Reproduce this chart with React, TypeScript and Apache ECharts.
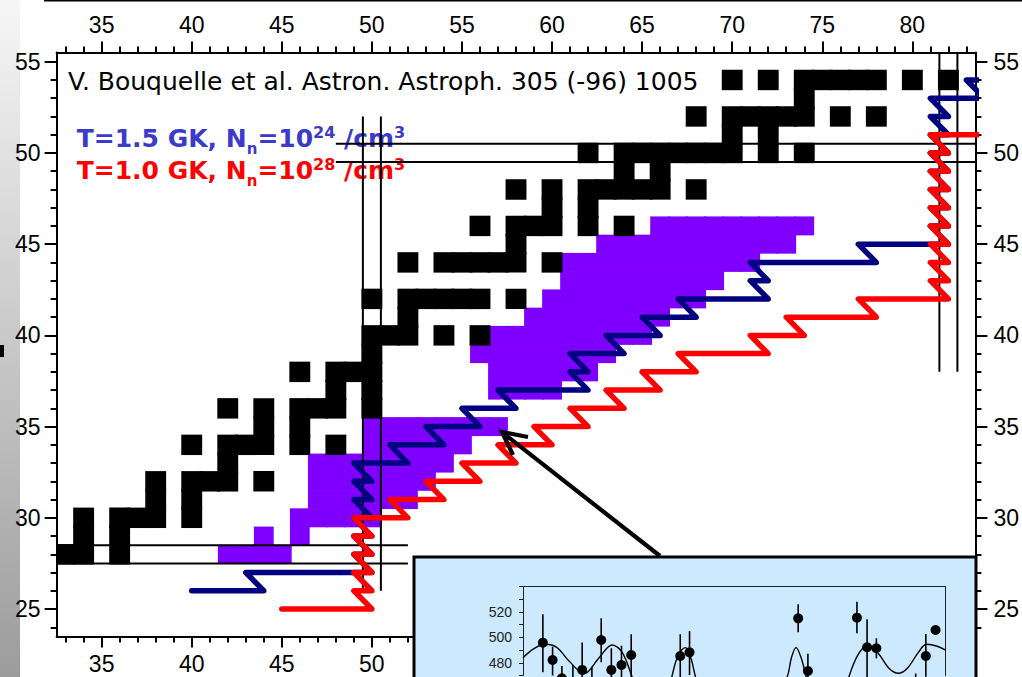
import React, { useEffect, useRef } from "react";
import * as echarts from "echarts";

// ---------- main chart axes ----------
const X_MIN = 32.5;
const X_MAX = 83.5;
const Y_MIN = 23.5;
const Y_MAX = 55.5;
const xMajor = [35, 40, 45, 50, 55, 60, 65, 70, 75, 80];
const xMinor = [33, 34, 35, 36, 37, 38, 39, 40, 41, 42, 43, 44, 45, 46, 47, 48, 49, 50, 51, 52, 53, 54, 55, 56, 57, 58, 59, 60, 61, 62, 63, 64, 65, 66, 67, 68, 69, 70, 71, 72, 73, 74, 75, 76, 77, 78, 79, 80, 81, 82, 83];
const yMajor = [25, 30, 35, 40, 45, 50, 55];
const yMinor = [24, 25, 26, 27, 28, 29, 30, 31, 32, 33, 34, 35, 36, 37, 38, 39, 40, 41, 42, 43, 44, 45, 46, 47, 48, 49, 50, 51, 52, 53, 54, 55];

// ---------- stable nuclei (black cells): Z rows and their N values ----------
const stableZ = [28, 29, 30, 31, 32, 33, 34, 35, 36, 37, 38, 39, 40, 41, 42, 44, 45, 46, 47, 48, 49, 50, 51, 52, 53, 54];
const stableN = [
  [33, 34, 36],
  [34, 36],
  [34, 36, 37, 38, 40],
  [38, 40],
  [38, 40, 41, 42, 44],
  [42],
  [40, 42, 43, 44, 46, 48],
  [44, 46],
  [42, 44, 46, 47, 48, 50],
  [48, 50],
  [46, 48, 49, 50],
  [50],
  [50, 51, 52, 54, 56],
  [52],
  [50, 52, 53, 54, 55, 56, 58],
  [52, 54, 55, 56, 57, 58, 60],
  [58],
  [56, 58, 59, 60, 62, 64],
  [60, 62],
  [58, 60, 62, 63, 64, 65, 66, 68],
  [64, 66],
  [62, 64, 65, 66, 67, 68, 69, 70, 72, 74],
  [70, 72],
  [68, 70, 71, 72, 73, 74, 76, 78],
  [74],
  [70, 72, 74, 75, 76, 77, 78, 80, 82],
];

// ---------- measured nuclei (purple cells) ----------
const measuredZ = [28, 29, 30, 31, 32, 33, 34, 35, 37, 38, 39, 40, 41, 42, 43, 44, 45, 46];
const measuredN = [
  [42, 43, 44, 45],
  [44, 46],
  [46, 47, 48, 49, 50],
  [47, 48, 49, 50, 51, 52],
  [47, 48, 49, 50, 51, 52, 53],
  [47, 48, 49, 50, 51, 52, 53, 54],
  [50, 51, 52, 53, 54, 55],
  [50, 51, 52, 53, 54, 55, 56, 57],
  [57, 58, 59, 60],
  [57, 58, 59, 60, 61, 62],
  [56, 57, 58, 59, 60, 61, 62, 63],
  [57, 58, 59, 60, 61, 62, 63, 64, 65],
  [59, 60, 61, 62, 63, 64, 65, 66],
  [60, 61, 62, 63, 64, 65, 66, 67, 68],
  [61, 62, 63, 64, 65, 66, 67, 68, 69],
  [61, 62, 63, 64, 65, 66, 67, 68, 69, 70, 71],
  [63, 64, 65, 66, 67, 68, 69, 70, 71, 72, 73],
  [66, 67, 68, 69, 70, 71, 72, 73, 74],
];

// ---------- r-process paths [N, Z] ----------
const pathBlue = [
  [40, 26], [44, 26], [43, 27], [50, 27], [49, 28], [50, 28], [49, 29], [50, 29], [49, 30], [50, 30],
  [49, 31], [50, 31], [49, 32], [50, 32], [49, 33], [52, 33], [51, 34], [54, 34], [53, 35], [56, 35],
  [55, 36], [58, 36], [57, 37], [62, 37], [61, 38], [62, 38], [61, 39], [64, 39], [63, 40], [66, 40],
  [65, 41], [68, 41], [67, 42], [72, 42], [71, 43], [72, 43], [71, 44], [78, 44], [77, 45], [82, 45],
  [81, 46], [82, 46], [81, 47], [82, 47], [81, 48], [82, 48], [81, 49], [82, 49], [81, 50], [82, 50],
  [81, 51], [82, 51], [81, 52], [82, 52], [81, 53], [84, 53], [83, 54], [86, 54],
];
const pathRed = [
  [45, 25], [50, 25], [49, 26], [50, 26], [49, 27], [50, 27], [49, 28], [50, 28], [49, 29], [50, 29],
  [49, 30], [52, 30], [51, 31], [54, 31], [53, 32], [56, 32], [55, 33], [58, 33], [57, 34], [60, 34],
  [59, 35], [62, 35], [61, 36], [64, 36], [63, 37], [66, 37], [65, 38], [68, 38], [67, 39], [72, 39],
  [71, 40], [74, 40], [73, 41], [78, 41], [77, 42], [82, 42], [81, 43], [82, 43], [81, 44], [82, 44],
  [81, 45], [82, 45], [81, 46], [82, 46], [81, 47], [82, 47], [81, 48], [82, 48], [81, 49], [82, 49],
  [81, 50], [82, 50], [81, 51], [86, 51],
];

// ---------- magic number boundary lines [N, Z] ----------
const magicLines = [
  [[32.5, 28.5], [52, 28.5]],
  [[32.5, 27.5], [52, 27.5]],
  [[49.5, 26], [49.5, 52]],
  [[50.5, 26], [50.5, 52]],
  [[48, 50.5], [83.5, 50.5]],
  [[48, 49.5], [83.5, 49.5]],
  [[81.5, 38], [81.5, 55.5]],
  [[82.5, 38], [82.5, 55.5]],
];

// ---------- legend texts: [text, kind] ----------
const legendBlue = [["T=1.5 GK, N", "main"], ["n", "sub"], ["=10", "main"], ["24", "sup"], [" /cm", "main"], ["3", "sup"]];
const legendRed = [["T=1.0 GK, N", "main"], ["n", "sub"], ["=10", "main"], ["28", "sup"], [" /cm", "main"], ["3", "sup"]];

// ---------- inset data ----------
const insetYLabels = [480, 500, 520];
const insetX = [4.7, 7.0, 9.2, 11.8, 14.0, 16.3, 18.5, 20.9, 23.3, 25.6, 37.2, 39.4, 65.1, 67.4, 79.0, 81.4, 83.6, 92.9, 95.3, 97.6];
const insetY = [495.8, 482.2, 467.8, 462, 474.4, 460, 497.9, 474.4, 478.3, 486.1, 485.3, 488.2, 514.9, 473.6, 515.4, 492.2, 491.4, 462, 485.3, 505.7];
const insetLo = [472.5, 470, 455, 450, 455, 448, 480.4, 460, 465, 468.9, 468, 470.4, 503.9, 460, 503.1, 468.9, 483.5, 450, 469, 502.6];
const insetHi = [518, 492.6, 477.5, 478.3, 496, 477, 514.9, 491.4, 493.4, 502.4, 502.4, 505, 525.9, 487.1, 527.9, 514.1, 499.2, 471.6, 502.6, 508.9];
const insetCurve = [
  [0, 484], [2.5, 491], [5.3, 494.5], [8, 492], [11, 481], [14.5, 471.5], [18, 484], [21.1, 494], [23.5, 488],
  [25.8, 469], [28.5, 445], [31.5, 440], [34, 455], [35.2, 469], [36.5, 484], [38.4, 491.9], [39.7, 484],
  [40.8, 469], [43, 445], [50, 425], [58, 440], [62.5, 469], [63.5, 484], [64.6, 491.9], [65.8, 484], [67, 469],
  [69, 445], [73, 430], [76, 455], [77.1, 469], [79.2, 486], [81.4, 493.4], [84, 487.5], [86.5, 476],
  [88.8, 471.8], [91, 476], [93.5, 488], [95.5, 494.5], [98, 493], [100, 490],
];

const AXIS_FONT = "'Liberation Sans', Arial, Helvetica, sans-serif";
const TEXT_FONT = "'DejaVu Sans', sans-serif";

function cellRenderer(hx: number, hy: number, color: string) {
  return (params: any, api: any) => {
    const n = api.value(0);
    const z = api.value(1);
    const a = api.coord([n - hx, z + hy]);
    const b = api.coord([n + hx, z - hy]);
    const cs = params.coordSys;
    const shape = echarts.graphic.clipRectByRect(
      { x: a[0], y: a[1], width: b[0] - a[0], height: b[1] - a[1] },
      { x: cs.x, y: cs.y, width: cs.width, height: cs.height }
    );
    if (!shape) return null;
    return { type: "rect", shape, style: { fill: color } };
  };
}

function mkX(position: string, major: boolean) {
  return {
    type: "value",
    gridIndex: 0,
    position,
    min: X_MIN,
    max: X_MAX,
    axisLine: { show: !major, onZero: false, lineStyle: { color: "#000", width: 2 } },
    axisTick: {
      show: true,
      inside: false,
      customValues: major ? xMajor : xMinor,
      length: major ? 11 : 6,
      lineStyle: { color: "#000", width: 2 },
    },
    axisLabel: {
      show: !major,
      customValues: xMajor,
      margin: 16,
      fontSize: 23,
      color: "#000",
      fontFamily: AXIS_FONT,
    },
    splitLine: { show: false },
    z: 0,
  };
}

function mkY(position: string, major: boolean, margin: number) {
  return {
    type: "value",
    gridIndex: 0,
    position,
    min: Y_MIN,
    max: Y_MAX,
    axisLine: { show: !major, onZero: false, lineStyle: { color: "#000", width: 2 } },
    axisTick: {
      show: true,
      inside: false,
      customValues: major ? yMajor : yMinor,
      length: major ? 12 : 6,
      lineStyle: { color: "#000", width: 2 },
    },
    axisLabel: {
      show: !major,
      customValues: yMajor,
      margin,
      fontSize: 23,
      color: "#000",
      fontFamily: AXIS_FONT,
    },
    splitLine: { show: false },
    z: 0,
  };
}

function buildLegend(parts: string[][], x0: number, yc: number, color: string) {
  const canvas = document.createElement("canvas");
  const ctx = canvas.getContext("2d") as CanvasRenderingContext2D;
  const sizes: Record<string, number> = { main: 25, sub: 15, sup: 16 };
  const dy: Record<string, number> = { main: 0, sub: 10.6, sup: -5.5 };
  let x = x0;
  const els: any[] = [];
  parts.forEach(([t, kind]) => {
    ctx.font = `bold ${sizes[kind]}px ${TEXT_FONT}`;
    const w = ctx.measureText(t).width;
    els.push({
      type: "text",
      x,
      y: yc + dy[kind],
      style: {
        text: t,
        fontSize: sizes[kind],
        fontWeight: "bold",
        fontFamily: TEXT_FONT,
        fill: color,
        verticalAlign: "middle",
        align: "left",
      },
      z: 1,
    });
    x += w;
  });
  return els;
}

export default function App() {
  const ref = useRef<HTMLDivElement>(null);

  useEffect(() => {
    if (!ref.current) return;
    const chart = echarts.init(ref.current, null, { renderer: "svg" });

    const stableData: number[][] = [];
    stableZ.forEach((z, i) => stableN[i].forEach((n) => stableData.push([n, z])));
    const measuredData: number[][] = [];
    measuredZ.forEach((z, i) => measuredN[i].forEach((n) => measuredData.push([n, z])));

    const magicSeries = magicLines.map((seg) => ({
      type: "line",
      xAxisIndex: 0,
      yAxisIndex: 0,
      data: seg,
      symbol: "none",
      silent: true,
      clip: true,
      lineStyle: { color: "#000", width: 2 },
      z: 4,
    }));

    const option: any = {
      animation: false,
      backgroundColor: "#ffffff",
      grid: [
        { left: 56.6, right: 44.8, top: 52.6, bottom: 40.6, show: false },
        { left: 523, top: 586.3, width: 422.7, bottom: 1.45, show: false },
      ],
      xAxis: [
        mkX("bottom", false),
        mkX("top", false),
        mkX("bottom", true),
        mkX("top", true),
        {
          type: "value",
          gridIndex: 1,
          position: "top",
          min: 0,
          max: 100,
          axisLine: { show: true, onZero: false, lineStyle: { color: "#222", width: 1 } },
          axisTick: { show: false },
          axisLabel: { show: false },
          splitLine: { show: false },
          z: 60,
        },
      ],
      yAxis: [
        mkY("left", false, 16),
        mkY("right", false, 18),
        mkY("left", true, 16),
        mkY("right", true, 18),
        {
          type: "value",
          gridIndex: 1,
          position: "left",
          min: 470,
          max: 540,
          interval: 10,
          axisLine: { show: true, onZero: false, lineStyle: { color: "#222", width: 1 } },
          axisTick: { show: true, length: 4, lineStyle: { color: "#222", width: 1 } },
          axisLabel: {
            customValues: insetYLabels,
            fontSize: 14,
            margin: 11,
            color: "#222",
            fontFamily: AXIS_FONT,
          },
          splitLine: { show: false },
          z: 60,
        },
        {
          type: "value",
          gridIndex: 1,
          position: "right",
          min: 470,
          max: 540,
          axisLine: { show: true, onZero: false, lineStyle: { color: "#222", width: 1 } },
          axisTick: { show: false },
          axisLabel: { show: false },
          splitLine: { show: false },
          z: 60,
        },
      ],
      graphic: [
        {
          type: "rect",
          shape: { x: 0, y: 0, width: 20, height: 677 },
          style: {
            fill: {
              type: "linear",
              x: 0,
              y: 0,
              x2: 0,
              y2: 1,
              colorStops: [
                { offset: 0, color: "#f6f6f6" },
                { offset: 1, color: "#9c9c9c" },
              ],
            },
          },
          z: 0,
        },
        { type: "rect", shape: { x: 0, y: 345, width: 4, height: 12 }, style: { fill: "#000" }, z: 1 },
        { type: "line", shape: { x1: 44, y1: 0.8, x2: 1022, y2: 0.8 }, style: { stroke: "#000", lineWidth: 1.6 }, z: 1 },
        {
          type: "text",
          x: 68,
          y: 81.5,
          style: {
            text: "V. Bouquelle et al. Astron. Astroph. 305 (-96) 1005",
            fontSize: 25,
            fontFamily: TEXT_FONT,
            fill: "#000",
            verticalAlign: "middle",
            align: "left",
          },
          z: 1,
        },
        ...buildLegend(legendBlue, 76.7, 138.3, "#3a3acb"),
        ...buildLegend(legendRed, 76.7, 170, "#ff0000"),
        {
          type: "rect",
          shape: { x: 414, y: 557, width: 562, height: 140 },
          style: { fill: "#cce9fd", stroke: "#000", lineWidth: 3 },
          z: 50,
        },
        {
          type: "polyline",
          shape: { points: [[660, 556], [503, 433]] },
          style: { stroke: "#000", lineWidth: 4.2, fill: null },
          z: 51,
        },
        {
          type: "polyline",
          shape: { points: [[528, 437], [502, 432], [513, 455]] },
          style: { stroke: "#000", lineWidth: 4.2, fill: null, lineJoin: "miter" },
          z: 51,
        },
      ],
      series: [
        {
          type: "custom",
          xAxisIndex: 0,
          yAxisIndex: 0,
          data: measuredData,
          renderItem: cellRenderer(0.55, 0.52, "#7f00ff"),
          silent: true,
          z: 2,
        },
        {
          type: "custom",
          xAxisIndex: 0,
          yAxisIndex: 0,
          data: stableData,
          renderItem: cellRenderer(0.58, 0.56, "#000000"),
          silent: true,
          z: 3,
        },
        ...magicSeries,
        {
          type: "line",
          xAxisIndex: 0,
          yAxisIndex: 0,
          data: pathBlue,
          symbol: "none",
          silent: true,
          clip: true,
          lineStyle: { color: "#000080", width: 5.5, cap: "round", join: "round" },
          z: 5,
        },
        {
          type: "line",
          xAxisIndex: 0,
          yAxisIndex: 0,
          data: pathRed,
          symbol: "none",
          silent: true,
          clip: true,
          lineStyle: { color: "#ff0000", width: 5.5, cap: "round", join: "round" },
          z: 6,
        },
        {
          type: "line",
          xAxisIndex: 4,
          yAxisIndex: 4,
          data: insetCurve,
          smooth: 0.35,
          symbol: "none",
          silent: true,
          clip: false,
          lineStyle: { color: "#000", width: 1.4 },
          z: 61,
        },
        {
          type: "custom",
          xAxisIndex: 4,
          yAxisIndex: 4,
          data: insetX.map((x, i) => [x, insetLo[i], insetHi[i]]),
          renderItem: (params: any, api: any) => {
            const x = api.value(0);
            const a = api.coord([x, api.value(1)]);
            const b = api.coord([x, api.value(2)]);
            return {
              type: "line",
              shape: { x1: a[0], y1: a[1], x2: b[0], y2: b[1] },
              style: { stroke: "#000", lineWidth: 1.6 },
            };
          },
          clip: false,
          silent: true,
          z: 62,
        },
        {
          type: "scatter",
          xAxisIndex: 4,
          yAxisIndex: 4,
          data: insetX.map((x, i) => [x, insetY[i]]),
          symbol: "circle",
          symbolSize: 10,
          clip: false,
          itemStyle: { color: "#000", opacity: 1 },
          silent: true,
          z: 63,
        },
      ],
    };

    chart.setOption(option);
    return () => chart.dispose();
  }, []);

  return (
    <div
      ref={ref}
      style={{ position: "fixed", left: 0, top: 0, width: 1022, height: 677, background: "#fff" }}
    />
  );
}
